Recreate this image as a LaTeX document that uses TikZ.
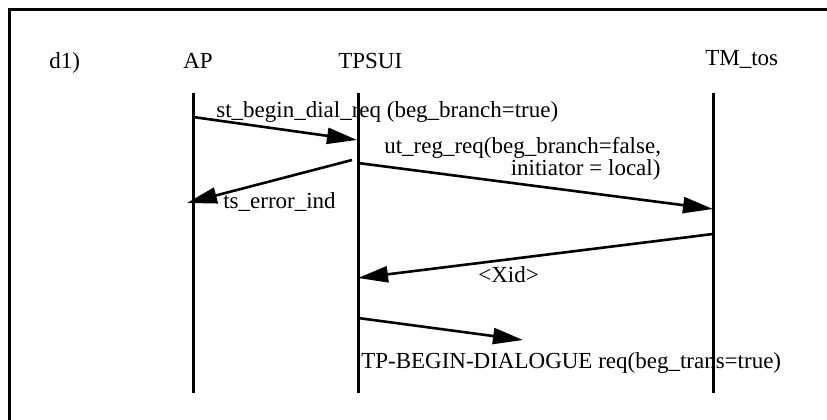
\documentclass[tikz,border=0pt]{standalone}
\usepackage{fontspec}
\setmainfont{Liberation Serif}
\usetikzlibrary{arrows.meta}
\begin{document}
\begin{tikzpicture}[x=1pt,y=-1pt,line width=2.6pt,
    lbl/.style={font=\fontsize{23}{18}\selectfont,inner sep=0pt,anchor=base west},
    msg/.style={-{Triangle[length=30pt,width=16pt]}}]
      \useasboundingbox (0,0) rectangle (827,420);
      \draw[line width=3pt] (9,420) -- (9,10) -- (827,10);

      \node[lbl] (d1) at (48,68) {d1)};
      \node[lbl] (ap) at (182,68) {AP};
      \node[lbl] (tpsui) at (337,68) {TPSUI};
      \node[lbl] (tmtos) at (704,66) {TM\_tos};

      \coordinate (apT) at (193,93);
      \coordinate (apB) at (193,393);
      \coordinate (tpT) at (358,93);
      \coordinate (tpB) at (358,393);
      \coordinate (tmT) at (713,93);
      \coordinate (tmB) at (713,393);
      \draw[line width=3pt] (apT) -- (apB);
      \draw[line width=3pt] (tpT) -- (tpB);
      \draw[line width=3pt] (tmT) -- (tmB);

      \coordinate (ap1) at (193,117);
      \coordinate (tp1) at (357,140);
      \draw[msg] (ap1) -- (tp1);
      \node[lbl] (m1) at (215,117) {st\_begin\_dial\_req (beg\_branch=true)};

      \coordinate (tp2) at (358,163);
      \coordinate (tm2) at (713,209);
      \draw[msg] (tp2) -- (tm2);
      \node[lbl,align=left] (m2) at (383,175) {ut\_reg\_req(beg\_branch=false,\\\hspace*{5.5em}initiator = local)};

      \coordinate (tp3) at (352,160);
      \coordinate (ap3) at (187,203);
      \draw[msg] (tp3) -- (ap3);
      \node[lbl] (m3) at (222,208) {ts\_error\_ind};

      \coordinate (tm4) at (713,234);
      \coordinate (tp4) at (358,278);
      \draw[msg] (tm4) -- (tp4);
      \node[lbl] (m4) at (477,282) {<Xid>};

      \coordinate (tp5) at (358,318);
      \coordinate (end5) at (523,340);
      \draw[msg] (tp5) -- (end5);
      \node[lbl] (m5) at (360,368) {TP-BEGIN-DIALOGUE req(beg\_trans=true)};
    \end{tikzpicture}
\end{document}
